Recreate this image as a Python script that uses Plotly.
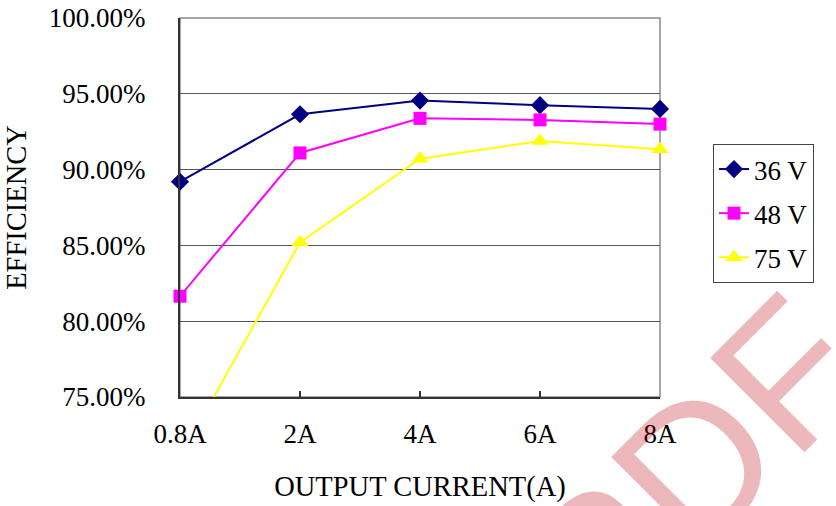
import plotly.graph_objects as go

# Output current steps (category axis)
currents = ["0.8A", "2A", "4A", "6A", "8A"]

# Efficiency in percent for each input voltage
eff_36v = [89.2, 93.65, 94.55, 94.25, 94.0]
eff_48v = [81.65, 91.1, 93.38, 93.28, 93.0]
eff_75v = [71.0, 85.2, 90.72, 91.88, 91.35]

series = [
    ("36 V", eff_36v, "#000080", "diamond", 14),
    ("48 V", eff_48v, "#FF00FF", "square", 13),
    ("75 V", eff_75v, "#FFFF00", "triangle-up", 15),
]

FONT = "Liberation Serif, Times New Roman, serif"

fig = go.Figure()
for i, (name, vals, color, symbol, size) in enumerate(series):
    fig.add_trace(go.Scatter(
        x=currents, y=vals, name=name, mode="lines+markers",
        line=dict(color=color, width=2),
        marker=dict(color=color, symbol=symbol, size=size, line=dict(width=0)),
        cliponaxis=False, legendgroup=f"g{i}",
    ))

# gray frame around the plotting area
fig.add_shape(type="rect", xref="paper", yref="paper", x0=0, x1=1, y0=0, y1=1,
              line=dict(color="#8a8a8a", width=1.5), layer="below")

# diagonal watermark
fig.add_annotation(
    text="PDF", xref="paper", yref="paper", x=1.066, y=-0.19,
    xanchor="center", yanchor="middle", showarrow=False, textangle=-45,
    font=dict(family="Liberation Sans, Arial, sans-serif", size=194,
              color="rgba(190,0,15,0.28)"),
)

fig.update_layout(
    width=836, height=506,
    margin=dict(l=180, r=176, t=18, b=109, autoexpand=False),
    paper_bgcolor="white", plot_bgcolor="white",
    font=dict(family=FONT, size=27, color="black"),
    showlegend=True,
    legend=dict(
        x=(713 - 180) / 480, y=(397 - 144) / 379, xanchor="left", yanchor="top",
        bordercolor="#444444", borderwidth=1, bgcolor="white",
        font=dict(family=FONT, size=27), tracegroupgap=6,
        itemwidth=30,
    ),
    xaxis=dict(
        type="category", range=[0, 4], showgrid=False,
        showline=True, linecolor="#333333", linewidth=2,
        ticks="inside", ticklen=6, tickcolor="#333333", tickwidth=1.5,
        ticklabelstandoff=12,
        title=dict(text="OUTPUT CURRENT(A)", font=dict(family=FONT, size=28.5), standoff=28),
        zeroline=False,
    ),
    yaxis=dict(
        range=[75, 100], dtick=5, tick0=75,
        tickformat=".2f", ticksuffix="%",
        showgrid=True, gridcolor="#555555", gridwidth=1,
        showline=True, linecolor="#333333", linewidth=2,
        ticks="", ticklabelstandoff=27,
        title=dict(text="EFFICIENCY", font=dict(family=FONT, size=28.5), standoff=14),
        zeroline=False,
    ),
)

fig.write_html("out.html")
